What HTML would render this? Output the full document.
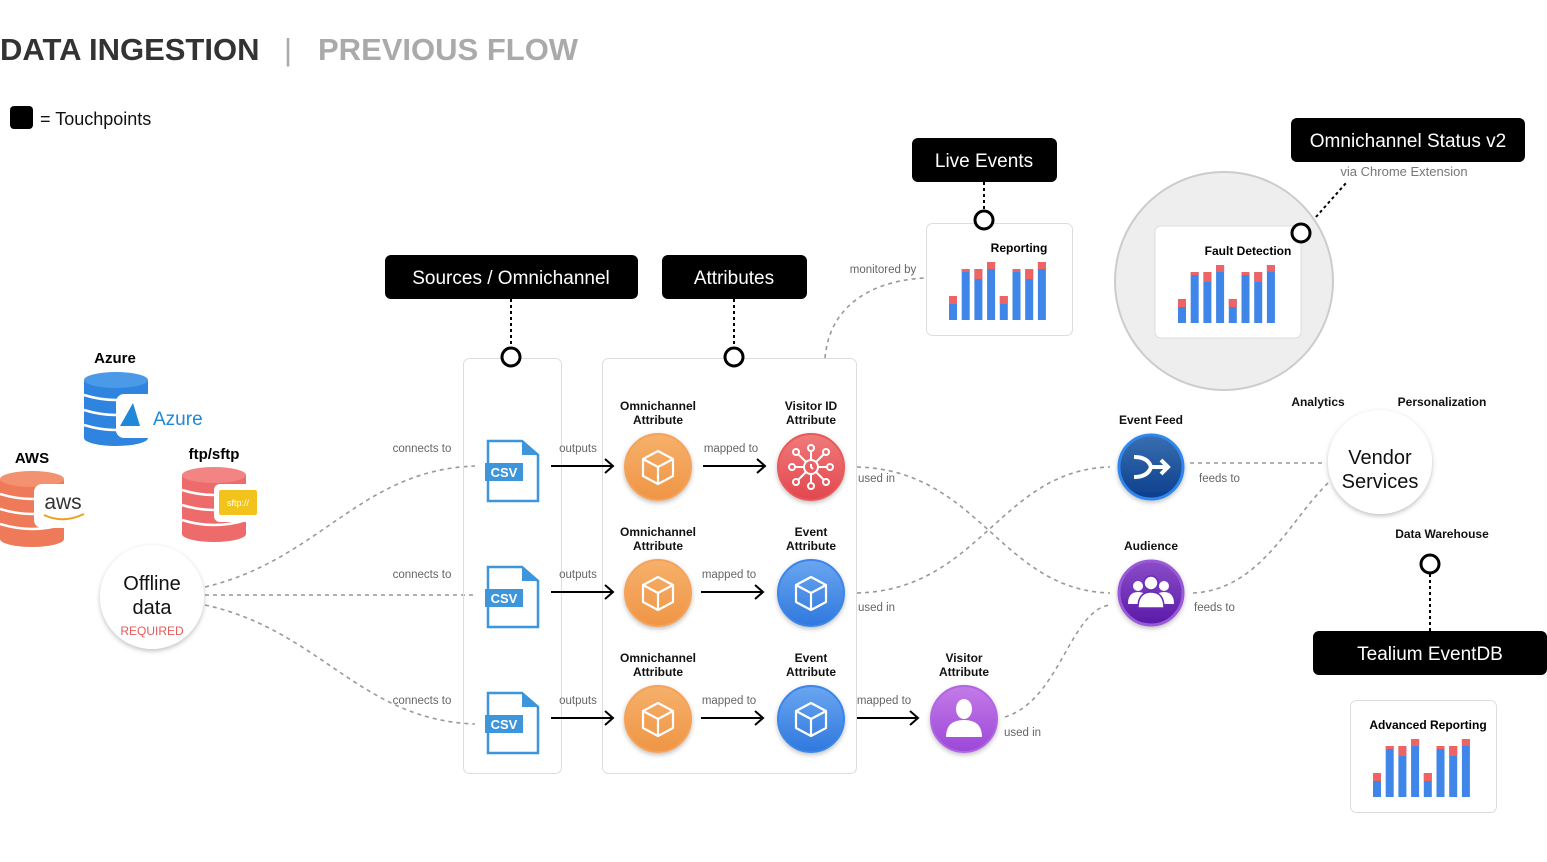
<!DOCTYPE html>
<html><head><meta charset="utf-8"><style>
html,body{margin:0;padding:0;background:#fff}
svg{display:block;font-family:"Liberation Sans",sans-serif}
</style></head><body>
<svg width="1547" height="862" viewBox="0 0 1547 862" xmlns="http://www.w3.org/2000/svg">
<defs>
<filter id="sh" x="-30%" y="-30%" width="160%" height="160%"><feDropShadow dx="0" dy="2" stdDeviation="2.5" flood-color="#000" flood-opacity="0.25"/></filter>
<linearGradient id="gor" x1="0" y1="0" x2="0" y2="1"><stop offset="0" stop-color="#f6b06a"/><stop offset="1" stop-color="#ef9545"/></linearGradient>
<linearGradient id="gred" x1="0" y1="0" x2="0" y2="1"><stop offset="0" stop-color="#f07a7a"/><stop offset="1" stop-color="#e2474f"/></linearGradient>
<linearGradient id="gblue" x1="0" y1="0" x2="0" y2="1"><stop offset="0" stop-color="#6aa6f0"/><stop offset="1" stop-color="#2f78de"/></linearGradient>
<linearGradient id="gdb" x1="0" y1="0" x2="0" y2="1"><stop offset="0" stop-color="#3a6fb0"/><stop offset="1" stop-color="#0c3e8c"/></linearGradient>
<linearGradient id="gpu" x1="0" y1="0" x2="0" y2="1"><stop offset="0" stop-color="#8a4cc8"/><stop offset="1" stop-color="#5a1aa8"/></linearGradient>
<linearGradient id="gvi" x1="0" y1="0" x2="0" y2="1"><stop offset="0" stop-color="#c47ae8"/><stop offset="1" stop-color="#9b48d8"/></linearGradient>
<g id="chart">
 <rect x="0" y="-24" width="8" height="24" fill="#3f86e8"/><rect x="0" y="-24" width="8" height="8" fill="#ee6464"/>
 <rect x="12.7" y="-51" width="8" height="51" fill="#3f86e8"/><rect x="12.7" y="-51" width="8" height="3" fill="#ee6464"/>
 <rect x="25.4" y="-51" width="8" height="51" fill="#3f86e8"/><rect x="25.4" y="-51" width="8" height="10" fill="#ee6464"/>
 <rect x="38.1" y="-58" width="8" height="58" fill="#3f86e8"/><rect x="38.1" y="-58" width="8" height="7" fill="#ee6464"/>
 <rect x="50.8" y="-24" width="8" height="24" fill="#3f86e8"/><rect x="50.8" y="-24" width="8" height="8" fill="#ee6464"/>
 <rect x="63.5" y="-51" width="8" height="51" fill="#3f86e8"/><rect x="63.5" y="-51" width="8" height="3" fill="#ee6464"/>
 <rect x="76.2" y="-51" width="8" height="51" fill="#3f86e8"/><rect x="76.2" y="-51" width="8" height="10" fill="#ee6464"/>
 <rect x="88.9" y="-58" width="8" height="58" fill="#3f86e8"/><rect x="88.9" y="-58" width="8" height="7" fill="#ee6464"/>
</g>
<g id="cube" fill="none" stroke="#fff" stroke-width="2.2" stroke-linejoin="round">
 <path d="M0,-16 L15,-8 L15,9 L0,17 L-15,9 L-15,-8 Z M-15,-8 L0,0 L15,-8 M0,0 L0,17"/>
</g>
<g id="csv">
 <path d="M0,0 H34 L50,14 V60 H0 Z" fill="#fff" stroke="#3d95dc" stroke-width="2.5"/>
 <path d="M34,0 V14 H50" fill="#3d95dc"/>
 <rect x="-3" y="22" width="38" height="18" fill="#3d95dc"/>
 <text x="16" y="36" font-size="13" font-weight="bold" fill="#fff" text-anchor="middle">CSV</text>
</g>
</defs>

<!-- title -->
<text x="0" y="60" font-size="31" font-weight="bold" fill="#333">DATA INGESTION</text>
<text x="284" y="60" font-size="31" fill="#aaa">|</text>
<text x="318" y="60" font-size="31" font-weight="bold" fill="#aaa">PREVIOUS FLOW</text>
<rect x="10" y="106" width="23" height="23" rx="4" fill="#000"/>
<text x="40" y="125" font-size="18" fill="#111">= Touchpoints</text>

<!-- connectors -->
<g fill="none" stroke="#999" stroke-width="1.6" stroke-dasharray="4,4">
 <path d="M205,587 C320,560 360,470 475,466"/>
 <path d="M205,595 H475"/>
 <path d="M205,605 C320,630 360,720 475,724"/>
 <path d="M857,467 C980,470 1000,590 1110,593"/>
 <path d="M857,593 C980,590 1000,470 1110,467"/>
 <path d="M1005,717 C1060,700 1070,610 1110,605"/>
 <path d="M1190,463 H1325"/>
 <path d="M1193,593 C1260,590 1290,520 1328,483"/>
 <path d="M825,358 C830,300 880,280 925,278"/>
</g>
<g fill="none" stroke="#000" stroke-width="2" stroke-dasharray="3,3">
 <path d="M511,299 V347"/><path d="M734,299 V347"/><path d="M984,182 V211"/>
 <path d="M1308,226 L1346,183"/><path d="M1430,574 V631"/>
</g>

<!-- panels -->
<rect x="463.5" y="358.5" width="98" height="415" rx="6" fill="none" stroke="#ddd"/>
<rect x="602.5" y="358.5" width="254" height="415" rx="6" fill="none" stroke="#ddd"/>

<!-- big grey circle -->
<circle cx="1224" cy="281" r="109" fill="#eee" stroke="#ccc" stroke-width="2"/>
<rect x="1155" y="226" width="146" height="112" rx="6" fill="#fff" stroke="#ddd"/>
<text x="1248" y="255" font-size="12" font-weight="bold" text-anchor="middle">Fault Detection</text>
<use href="#chart" transform="translate(1178,323)"/>

<rect x="926.5" y="223.5" width="146" height="112" rx="6" fill="#fff" stroke="#ddd"/>
<text x="1019" y="252" font-size="12" font-weight="bold" text-anchor="middle">Reporting</text>
<use href="#chart" transform="translate(949,320)"/>

<rect x="1350.5" y="700.5" width="146" height="112" rx="6" fill="#fff" stroke="#ddd"/>
<text x="1428" y="729" font-size="12" font-weight="bold" text-anchor="middle">Advanced Reporting</text>
<use href="#chart" transform="translate(1373,797)"/>

<!-- touchpoint circles -->
<g fill="#fff" stroke="#000" stroke-width="3">
 <circle cx="511" cy="357" r="9"/><circle cx="734" cy="357" r="9"/><circle cx="984" cy="220" r="9"/>
 <circle cx="1301" cy="233" r="9"/><circle cx="1430" cy="564" r="9"/>
</g>

<!-- black labels -->
<g font-size="19" fill="#fff" text-anchor="middle">
 <rect x="385" y="255" width="253" height="44" rx="6" fill="#000"/><text x="511" y="284">Sources / Omnichannel</text>
 <rect x="662" y="255" width="145" height="44" rx="6" fill="#000"/><text x="734" y="284">Attributes</text>
 <rect x="912" y="138" width="145" height="44" rx="6" fill="#000"/><text x="984" y="167">Live Events</text>
 <rect x="1291" y="118" width="234" height="44" rx="6" fill="#000"/><text x="1408" y="147">Omnichannel Status v2</text>
 <rect x="1313" y="631" width="234" height="44" rx="6" fill="#000"/><text x="1430" y="660">Tealium EventDB</text>
</g>
<text x="1404" y="176" font-size="13" fill="#777" text-anchor="middle">via Chrome Extension</text>

<!-- databases -->
<g>
 <text x="115" y="363" font-size="15" font-weight="bold" text-anchor="middle">Azure</text>
 <rect x="84" y="380" width="64" height="58" fill="#2f84e0"/>
 <ellipse cx="116" cy="438" rx="32" ry="8" fill="#2f84e0"/>
 <ellipse cx="116" cy="380" rx="32" ry="8" fill="#4a9ae8"/>
 <path d="M84,395 Q116,405 148,395 M84,410 Q116,420 148,410 M84,425 Q116,435 148,425" stroke="#fff" stroke-width="2.5" fill="none"/>
 <rect x="116" y="394" width="92" height="44" rx="8" fill="#fff"/>
 <path d="M120,426 L133,403 L140,426 Z" fill="#1f88d8"/>
 <text x="153" y="425" font-size="19" fill="#1f88d8">Azure</text>

 <text x="32" y="463" font-size="15" font-weight="bold" text-anchor="middle">AWS</text>
 <rect x="0" y="479" width="64" height="60" fill="#ee7a5a"/>
 <ellipse cx="32" cy="539" rx="32" ry="8" fill="#ee7a5a"/>
 <ellipse cx="32" cy="479" rx="32" ry="8" fill="#f29270"/>
 <path d="M0,494 Q32,504 64,494 M0,509 Q32,519 64,509 M0,524 Q32,534 64,524" stroke="#fff" stroke-width="2.5" fill="none"/>
 <rect x="34" y="484" width="54" height="44" rx="8" fill="#fff"/>
 <text x="63" y="509" font-size="21" fill="#333" text-anchor="middle">aws</text>
 <path d="M44,515 Q63,524 84,514" stroke="#f0a020" stroke-width="2" fill="none"/>

 <text x="214" y="459" font-size="15" font-weight="bold" text-anchor="middle">ftp/sftp</text>
 <rect x="182" y="475" width="64" height="59" fill="#ee6b6b"/>
 <ellipse cx="214" cy="534" rx="32" ry="8" fill="#ee6b6b"/>
 <ellipse cx="214" cy="475" rx="32" ry="8" fill="#f28484"/>
 <path d="M182,490 Q214,500 246,490 M182,505 Q214,515 246,505 M182,520 Q214,530 246,520" stroke="#fff" stroke-width="2.5" fill="none"/>
 <rect x="214" y="484" width="46" height="38" rx="6" fill="#fff"/>
 <rect x="219" y="490" width="38" height="25" rx="2" fill="#f2c31c"/>
 <text x="238" y="506" font-size="9" fill="#fff" text-anchor="middle">sftp://</text>
</g>

<!-- offline -->
<circle cx="152" cy="597" r="52" fill="#fff" filter="url(#sh)"/>
<text x="152" y="590" font-size="20" text-anchor="middle" fill="#111">Offline</text>
<text x="152" y="614" font-size="20" text-anchor="middle" fill="#111">data</text>
<text x="152" y="635" font-size="12" text-anchor="middle" fill="#e55a5a">REQUIRED</text>

<!-- CSV files -->
<use href="#csv" transform="translate(488,441)"/>
<use href="#csv" transform="translate(488,567)"/>
<use href="#csv" transform="translate(488,693)"/>

<!-- grey labels -->
<g font-size="11.5" fill="#666">
 <text x="422" y="452" text-anchor="middle">connects to</text>
 <text x="422" y="578" text-anchor="middle">connects to</text>
 <text x="422" y="704" text-anchor="middle">connects to</text>
 <text x="578" y="452" text-anchor="middle">outputs</text>
 <text x="578" y="578" text-anchor="middle">outputs</text>
 <text x="578" y="704" text-anchor="middle">outputs</text>
 <text x="731" y="452" text-anchor="middle">mapped to</text>
 <text x="729" y="578" text-anchor="middle">mapped to</text>
 <text x="729" y="704" text-anchor="middle">mapped to</text>
 <text x="884" y="704" text-anchor="middle">mapped to</text>
 <text x="858" y="482">used in</text>
 <text x="858" y="611">used in</text>
 <text x="1004" y="736">used in</text>
 <text x="1199" y="482">feeds to</text>
 <text x="1194" y="611">feeds to</text>
 <text x="883" y="273" text-anchor="middle">monitored by</text>
</g>

<!-- arrows -->
<g stroke="#000" stroke-width="2" fill="none">
 <path d="M551,466 H613 M605,459 L613,466 L605,473"/>
 <path d="M551,592 H613 M605,585 L613,592 L605,599"/>
 <path d="M551,718 H613 M605,711 L613,718 L605,725"/>
 <path d="M703,466 H765 M757,459 L765,466 L757,473"/>
 <path d="M701,592 H763 M755,585 L763,592 L755,599"/>
 <path d="M701,718 H763 M755,711 L763,718 L755,725"/>
 <path d="M857,718 H918 M910,711 L918,718 L910,725"/>
</g>

<!-- node labels -->
<g font-size="12" font-weight="bold" text-anchor="middle" fill="#111">
 <text x="658" y="410">Omnichannel</text><text x="658" y="424">Attribute</text>
 <text x="811" y="410">Visitor ID</text><text x="811" y="424">Attribute</text>
 <text x="658" y="536">Omnichannel</text><text x="658" y="550">Attribute</text>
 <text x="811" y="536">Event</text><text x="811" y="550">Attribute</text>
 <text x="658" y="662">Omnichannel</text><text x="658" y="676">Attribute</text>
 <text x="811" y="662">Event</text><text x="811" y="676">Attribute</text>
 <text x="964" y="662">Visitor</text><text x="964" y="676">Attribute</text>
 <text x="1151" y="424">Event Feed</text>
 <text x="1151" y="550">Audience</text>
 <text x="1318" y="406">Analytics</text>
 <text x="1442" y="406">Personalization</text>
 <text x="1442" y="538">Data Warehouse</text>
</g>

<!-- nodes -->
<g filter="url(#sh)">
 <circle cx="658" cy="467" r="33" fill="url(#gor)" stroke="#f5a35a" stroke-width="2"/>
 <circle cx="658" cy="593" r="33" fill="url(#gor)" stroke="#f5a35a" stroke-width="2"/>
 <circle cx="658" cy="719" r="33" fill="url(#gor)" stroke="#f5a35a" stroke-width="2"/>
 <circle cx="811" cy="467" r="33" fill="url(#gred)" stroke="#e85a5a" stroke-width="2"/>
 <circle cx="811" cy="593" r="33" fill="url(#gblue)" stroke="#3a86e8" stroke-width="2"/>
 <circle cx="811" cy="719" r="33" fill="url(#gblue)" stroke="#3a86e8" stroke-width="2"/>
 <circle cx="964" cy="719" r="33" fill="url(#gvi)" stroke="#b066e0" stroke-width="2"/>
 <circle cx="1151" cy="467" r="32" fill="url(#gdb)" stroke="#2f86ee" stroke-width="3"/>
 <circle cx="1151" cy="593" r="32" fill="url(#gpu)" stroke="#9a5ad8" stroke-width="3"/>
 <circle cx="1380" cy="462" r="52" fill="#fff"/>
</g>
<use href="#cube" transform="translate(658,467)"/>
<use href="#cube" transform="translate(658,593)"/>
<use href="#cube" transform="translate(658,719)"/>
<use href="#cube" transform="translate(811,593)"/>
<use href="#cube" transform="translate(811,719)"/>
<!-- visitor id icon -->
<g stroke="#fff" stroke-width="2" fill="none" transform="translate(811,467)">
 <circle r="7"/><path d="M0,-3 V0 L2,2"/>
 <path d="M0,-7 V-16 M0,7 V16 M-7,0 H-16 M7,0 H16 M-5,-5 L-13,-13 M5,-5 L13,-13 M-5,5 L-13,13 M5,5 L13,13"/>
 <circle cy="-19" r="3"/><circle cy="19" r="3"/><circle cx="-19" r="3"/><circle cx="19" r="3"/>
 <circle cx="-15" cy="-15" r="3"/><circle cx="15" cy="-15" r="3"/><circle cx="-15" cy="15" r="3"/><circle cx="15" cy="15" r="3"/>
</g>
<!-- event feed icon -->
<path d="M1134,457 Q1148,457 1151,467 Q1148,477 1134,477 M1151,467 H1168 M1161,460 L1168,467 L1161,474" stroke="#fff" stroke-width="4" fill="none"/>
<!-- audience icon -->
<g fill="#fff">
 <circle cx="1138" cy="586" r="5"/><circle cx="1164" cy="586" r="5"/>
 <path d="M1128,604 Q1128,592 1138,592 Q1148,592 1148,604 Z M1154,604 Q1154,592 1164,592 Q1174,592 1174,604 Z"/>
 <circle cx="1151" cy="583" r="7" stroke="#6a2ab8" stroke-width="1.5"/>
 <path d="M1138,608 Q1138,592 1151,592 Q1164,592 1164,608 Z" stroke="#6a2ab8" stroke-width="1.5"/>
</g>
<!-- visitor icon -->
<g fill="#fff">
 <ellipse cx="964" cy="709" rx="8" ry="10"/>
 <path d="M946,737 Q946,720 964,720 Q982,720 982,737 Z"/>
</g>
<text x="1380" y="464" font-size="20" text-anchor="middle" fill="#111">Vendor</text>
<text x="1380" y="488" font-size="20" text-anchor="middle" fill="#111">Services</text>
</svg>
</body></html>
